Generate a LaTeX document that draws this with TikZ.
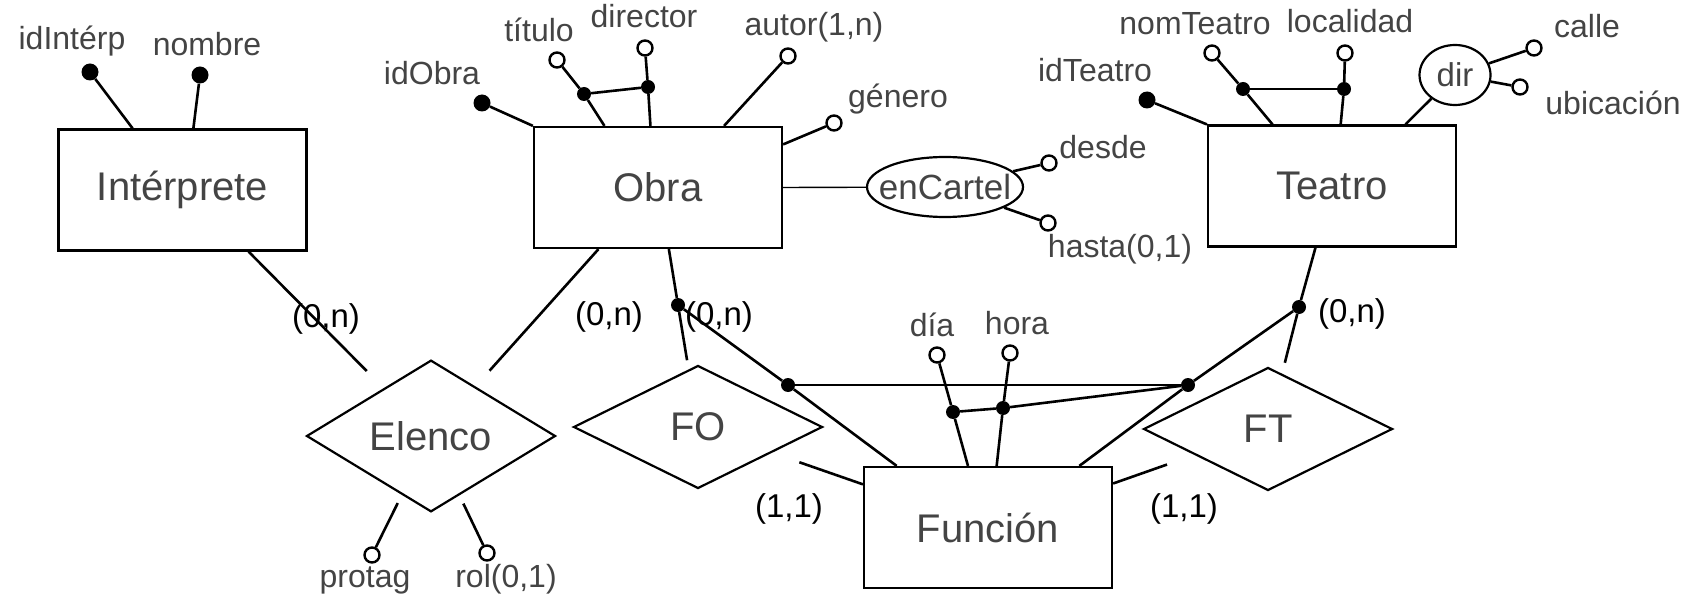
\documentclass[tikz,border=0pt]{standalone}
\usepackage{fontspec}
\setmainfont{Liberation Sans}
\usetikzlibrary{shapes.geometric}

\definecolor{ink}{HTML}{444444}

\begin{document}
\begin{tikzpicture}[x=1pt,y=-1pt,
    entity/.style={draw,line width=2.2pt,minimum width=248pt,minimum height=121pt,inner sep=0pt,text=ink,font=\fontsize{40}{40}\selectfont},
    rel/.style={diamond,draw,line width=2.2pt,minimum width=249pt,minimum height=123pt,inner sep=0pt,text=ink,font=\fontsize{40}{40}\selectfont},
    multi/.style={ellipse,draw,line width=2.2pt,inner sep=0pt,text=ink,font=\fontsize{#1}{#1}\selectfont},
    keyattr/.style={circle,fill,inner sep=0pt,minimum size=17pt},
    attr/.style={circle,draw,fill=white,line width=2.4pt,inner sep=0pt,minimum size=15pt},
    joint/.style={circle,fill,inner sep=0pt,minimum size=14pt},
    attname/.style={anchor=base,inner sep=0pt,text=ink,font=\fontsize{32}{32}\selectfont},
    card/.style={anchor=base,inner sep=0pt,font=\fontsize{33}{33}\selectfont},
    link/.style={line width=2.6pt},
    fine/.style={line width=1.4pt}]
    \useasboundingbox (0,0) rectangle (1691,612);

    % entities and relationships
    \node[entity] (interp) at (182.5,190) {Intérprete};
    \node[entity] (obra) at (658,187.5) {Obra};
    \node[entity] (teatro) at (1332,186) {Teatro};
    \node[entity] (funcion) at (988,527.5) {Función};
    \node[rel] (elenco) at (431,436) {Elenco};
    \node[rel] (fo) at (698,427) {FO};
    \node[rel] (ft) at (1268,429) {FT};
    \node[multi=35,minimum width=156pt,minimum height=60pt,inner xsep=-12pt] (encartel) at (945,187) {enCartel};
    \node[multi=33,minimum width=71pt,minimum height=60pt] (dir) at (1455,75) {dir};

    % attributes
    \node[keyattr] (idinterp) at (90,72) {};
    \node[keyattr] (nombre) at (200,75) {};
    \node[keyattr] (idobra) at (482,103) {};
    \node[attr] (titulo) at (557,60) {};
    \node[joint] (tituloj) at (584,94) {};
    \node[attr] (director) at (645,48) {};
    \node[joint] (directorj) at (648,87) {};
    \node[attr] (autor) at (788,56) {};
    \node[attr] (genero) at (834,123) {};
    \node[attr] (desde) at (1049,163) {};
    \node[attr] (hasta) at (1048,223) {};
    \node[keyattr] (idteatro) at (1147,100) {};
    \node[attr] (nomteatro) at (1212,53) {};
    \node[joint] (nomteatroj) at (1243,89) {};
    \node[attr] (localidad) at (1345,53) {};
    \node[joint] (localidadj) at (1344,89) {};
    \node[attr] (calle) at (1534,48) {};
    \node[attr] (ubicacion) at (1520,87) {};
    \node[attr] (protag) at (372,555) {};
    \node[attr] (rol) at (487,553) {};
    \node[attr] (dia) at (937,355) {};
    \node[joint] (diaj) at (953,412) {};
    \node[attr] (hora) at (1010,353) {};
    \node[joint] (horaj) at (1003,408) {};
    \node[joint] (fodot) at (678,305) {};
    \node[joint] (fojoin) at (788,385) {};
    \node[joint] (ftdot) at (1299,307) {};
    \node[joint] (ftjoin) at (1188,385) {};

    % names
    \node[attname] (lidinterp) at (72,50) {idIntérp};
    \node[attname] (lnombre) at (207,56) {nombre};
    \node[attname] (lidobra) at (432,85) {idObra};
    \node[attname] (ltitulo) at (539,42) {título};
    \node[attname] (ldirector) at (644,28) {director};
    \node[attname] (lautor) at (814,36) {autor(1,n)};
    \node[attname] (lgenero) at (898,108) {género};
    \node[attname] (ldesde) at (1103,159) {desde};
    \node[attname] (lhasta) at (1120,258) {hasta(0,1)};
    \node[attname] (lidteatro) at (1095,82) {idTeatro};
    \node[attname] (lnomteatro) at (1195,35) {nomTeatro};
    \node[attname] (llocalidad) at (1350,33) {localidad};
    \node[attname] (lcalle) at (1587,38) {calle};
    \node[attname] (lubicacion) at (1613,115) {ubicación};
    \node[attname] (ldia) at (932,336) {día};
    \node[attname] (lhora) at (1017,334) {hora};
    \node[attname] (lprotag) at (365,587) {protag};
    \node[attname] (lrol) at (506,587) {rol(0,1)};

    % cardinalities
    \node[card] (cinterp) at (326,327) {(0,n)};
    \node[card] (cobra) at (609,325) {(0,n)};
    \node[card] (cfo) at (719,325) {(0,n)};
    \node[card] (cft) at (1352,322) {(0,n)};
    \node[card] (cfofun) at (789,517) {(1,1)};
    \node[card] (cftfun) at (1184,517) {(1,1)};

    \path[link]
        (idinterp) edge (interp.129)
        (nombre) edge (interp.80)
        (interp.-43) edge[shorten >=24pt] (elenco)
        (idobra) edge (obra.north west)
        (titulo) edge (tituloj)
        (tituloj) edge (obra.131)
        (director) edge (directorj)
        (directorj) edge (obra.97)
        (tituloj) edge (directorj)
        (autor) edge (obra.43)
        (genero) edge (obra.19)
        (obra.226) edge[shorten >=21pt] (elenco)
        (obra.-80) edge (fodot)
        (fodot) edge[shorten >=9pt] (fo)
        (fodot) edge (fojoin)
        (fojoin) edge (funcion.146)
        (fo) edge[shorten <=29pt] (funcion)
        (encartel) edge (desde)
        (encartel) edge (hasta)
        (idteatro) edge (teatro.north west)
        (nomteatro) edge (nomteatroj)
        (nomteatroj) edge (teatro.134)
        (localidad) edge (localidadj)
        (localidadj) edge (teatro.82)
        (teatro.40) edge (dir)
        (dir) edge (calle)
        (dir) edge (ubicacion)
        (teatro.-105) edge (ftdot)
        (ftdot) edge[shorten >=11pt] (ft)
        (ftdot) edge (ftjoin)
        (ftjoin) edge (funcion.34)
        (ft) edge[shorten <=29pt] (funcion)
        (elenco) edge[shorten <=9pt] (protag)
        (elenco) edge[shorten <=9pt] (rol)
        (dia) edge (diaj)
        (diaj) edge (funcion.108)
        (hora) edge (horaj)
        (horaj) edge (funcion.82)
        (diaj) edge (horaj)
        (horaj) edge (ftjoin);
    \path[fine]
        (obra.east) edge (encartel)
        (nomteatroj) edge (localidadj)
        (fojoin) edge (ftjoin);
\end{tikzpicture}
\end{document}
